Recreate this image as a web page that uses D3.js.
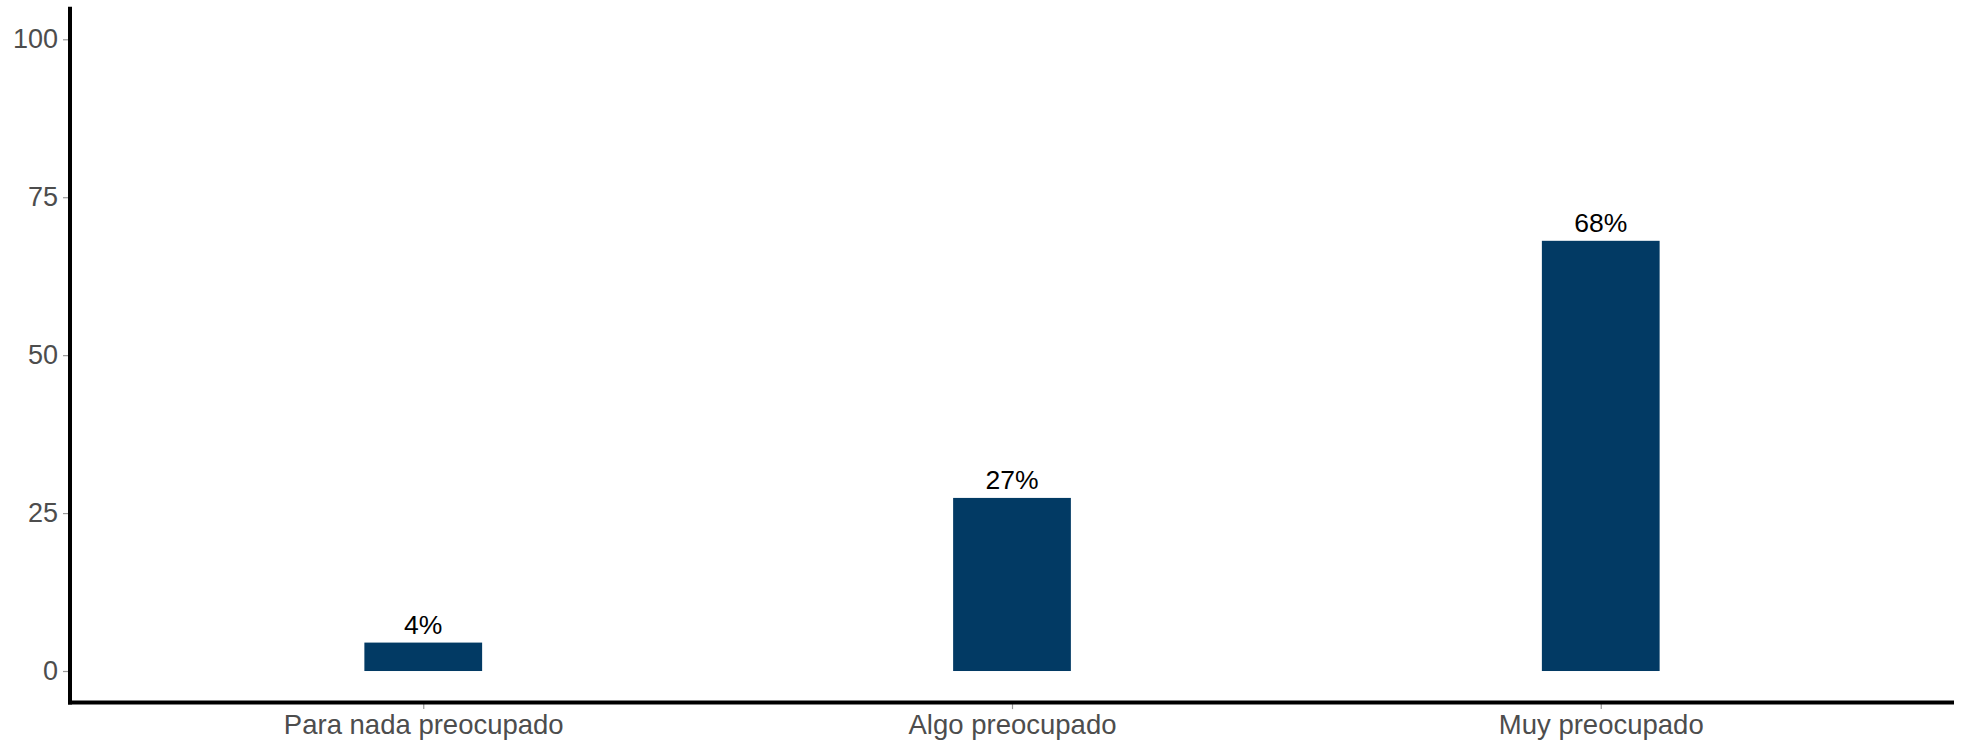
<!DOCTYPE html>
<html>
<head>
<meta charset="utf-8">
<script src="https://cdn.jsdelivr.net/npm/d3@7"></script>
<style>
  html, body { margin: 0; padding: 0; background: #fff; }
  svg { display: block; }
</style>
</head>
<body>
<svg id="chart" width="1962" height="745"></svg>
<script>
const categories = ["Para nada preocupado", "Algo preocupado", "Muy preocupado"];
const values = [4.5, 27.4, 68.1];
const labels = ["4%", "27%", "68%"];
const yTicks = [0, 25, 50, 75, 100];

const W = 1962, H = 745;
const mLeft = 70, mRight = 1954, mTop = 7.7, mBottom = 702.6;
const svg = d3.select("#chart");

// ggplot-style discrete axis: positions 1..3 with 0.6 expansion
const x = d3.scaleLinear().domain([0.4, 3.6]).range([mLeft, mRight]);
const y = d3.scaleLinear().domain([-5, 105]).range([mBottom, mTop]);
const barW = 0.2; // width in category units

const g = svg.append("g");

g.selectAll("rect.bar").data(values).enter().append("rect")
  .attr("class", "bar")
  .attr("x", (d, i) => x(i + 1 - barW / 2))
  .attr("width", (d, i) => x(i + 1 + barW / 2) - x(i + 1 - barW / 2))
  .attr("y", d => y(d))
  .attr("height", d => y(0) - y(d))
  .attr("fill", "#023a64");

g.selectAll("text.lab").data(values).enter().append("text")
  .attr("class", "lab")
  .attr("x", (d, i) => x(i + 1))
  .attr("y", d => y(d) - 9)
  .attr("text-anchor", "middle")
  .attr("font-family", "Liberation Sans, Arial, sans-serif")
  .attr("font-size", 26.5)
  .attr("fill", "#000")
  .text((d, i) => labels[i]);

// Y axis
const yAxis = d3.axisLeft(y).tickValues(yTicks).tickSize(5).tickPadding(5);
const yg = svg.append("g").attr("transform", `translate(${mLeft - 2},0)`).call(yAxis);
yg.select(".domain").remove();
yg.selectAll(".tick line").attr("stroke", "#999").attr("stroke-width", 1.2);
yg.selectAll(".tick text")
  .attr("font-family", "Liberation Sans, Arial, sans-serif")
  .attr("font-size", 27).attr("fill", "#4d4d4d");

// X axis
const xAxis = d3.axisBottom(x).tickValues([1, 2, 3]).tickFormat((d) => categories[d - 1]).tickSize(5).tickPadding(5);
const xg = svg.append("g").attr("transform", `translate(0,${mBottom + 1.5})`).call(xAxis);
xg.select(".domain").remove();
xg.selectAll(".tick line").attr("stroke", "#999").attr("stroke-width", 1.2);
xg.selectAll(".tick text")
  .attr("font-family", "Liberation Sans, Arial, sans-serif")
  .attr("font-size", 27.5).attr("fill", "#4d4d4d");

// axis lines
svg.append("line").attr("x1", mLeft).attr("x2", mLeft).attr("y1", mTop - 1).attr("y2", mBottom + 2)
  .attr("stroke", "#000").attr("stroke-width", 4);
svg.append("line").attr("x1", mLeft - 2).attr("x2", mRight).attr("y1", mBottom).attr("y2", mBottom)
  .attr("stroke", "#000").attr("stroke-width", 4);
</script>
</body>
</html>
